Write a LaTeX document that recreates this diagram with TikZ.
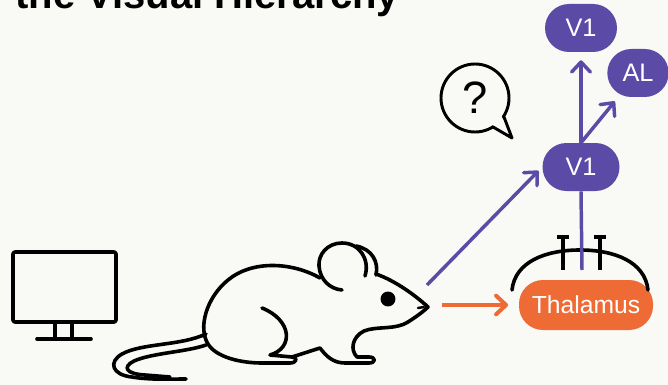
\documentclass[tikz,border=0pt]{standalone}
\usepackage{fontspec}
\setmainfont{Liberation Sans}
\usetikzlibrary{arrows.meta}
\definecolor{hierpurple}{RGB}{92,75,166}
\definecolor{hierorange}{RGB}{238,107,53}
\definecolor{paper}{RGB}{249,249,246}

\begin{document}
\begin{tikzpicture}[x=0.75pt,y=0.75pt,yscale=-1,xscale=1,
  outline/.style={line width=2.7pt,line cap=round,line join=round},
  pill/.style={rounded corners=18pt,text=white,inner sep=0pt},
  area/.style={pill,fill=hierpurple,minimum height=36pt,font=\fontsize{19}{22}\selectfont},
  feed/.style={line width=2.6pt,-{Straight Barb[length=7.5pt,width=14pt,round]}},
]
%set diagram size 668 x 385
\path[fill=paper] (0,0) rectangle (668,385);
\useasboundingbox (0,0) rectangle (668,385);

%Title (runs off the top)
\node[anchor=base west,inner sep=0pt,font=\bfseries\fontsize{30}{36}\selectfont] (title) at (15,9) {the Visual Hierarchy};

%Shape: Rectangle (monitor)
\draw[outline,rounded corners=1.5pt] (13,252) rectangle (116,322);
\draw[outline] (55,322) -- (55,338) (72,322) -- (72,338);
\draw[outline] (37,339) -- (91,339);

%Curve Lines: tail
\draw[outline] (206,334) .. controls (180,346) and (142,343) .. (122,354) .. controls (108,362) and (112,375) .. (132,377) .. controls (150,380) and (170,379) .. (186,379);
\draw[outline] (206,345) .. controls (186,352) and (152,353) .. (134,361) .. controls (122,367) and (126,374) .. (145,375) -- (170,377);
%Curve Lines: body, legs and head
\draw[outline] (320,278) .. controls (292,262) and (252,260) .. (228,280) .. controls (206,298) and (198,328) .. (208,344) .. controls (216,357) and (240,363) .. (262,363) -- (290,363) .. controls (297,363) and (298,357) .. (292,357) -- (320,348) .. controls (326,356) and (333,363) .. (345,363) -- (369,363) .. controls (376,363) and (376,357) .. (369,357) -- (357,357) .. controls (350,350) and (352,337) .. (364,331) .. controls (376,326) and (396,330) .. (408,322) .. controls (416,317) and (424,311) .. (428,307) .. controls (416,296) and (396,281) .. (376,274);
%Curve Lines: haunch
\draw[outline] (262,308) .. controls (292,320) and (294,348) .. (270,355) -- (292,357);
%Curve Lines: ear
\draw[outline] (365,276) .. controls (370,260) and (360,243) .. (342,243) .. controls (327,243) and (318,255) .. (319,266) .. controls (320,280) and (330,289) .. (342,290);
\draw[outline] (356,246) .. controls (372,249) and (379,262) .. (376,275);
%Shape: Circle (eye) and nostril
\fill (388,299) circle (5.6pt);
\draw[line width=1.8pt,line cap=round] (418,308) -- (424,307);

%Shape: Circle (speech bubble)
\node[circle,draw,line width=2.2pt,minimum size=51pt,inner sep=0pt,font=\fontsize{34}{40}\selectfont] (query) at (475,98) {?};
\fill[paper] (491,124) -- (512,138) -- (501,115) -- cycle;
\draw[line width=2.2pt,line join=round,line cap=round] (493,127) -- (512,138) -- (504,117);

%Areas
\node[pill,fill=hierorange,minimum width=100.5pt,minimum height=37.5pt,font=\fontsize{18.5}{22}\selectfont] (thal) at (586,305) {Thalamus};
\node[area,minimum width=57.75pt] (v1low) at (581,167) {V1};
\node[area,minimum width=54pt] (v1top) at (581,28) {V1};
\node[area,minimum width=46pt] (al) at (638,73) {AL};

%Curve Lines: cap over thalamus with two synapses
\draw[outline] (512,290) .. controls (515,262) and (545,250) .. (580,250) .. controls (615,250) and (645,262) .. (648,290);
\draw[outline,line cap=butt] (563,237) -- (563,270) (600,237) -- (600,270);
\draw[outline,line cap=butt] (557,237) -- (569,237) (594,237) -- (606,237);
\coordinate (synapse) at (582,270);
\draw[hierpurple,line width=2.6pt] (v1low.south) -- (synapse);

%Straight Lines: arrows
\coordinate (gaze) at (427,285);
\coordinate (snout) at (442,305);
\draw[feed,hierpurple,shorten >=4pt] (gaze) -- (v1low.west);
\draw[feed,hierorange,line width=3pt,shorten >=8pt] (snout) -- (thal.west);
\draw[feed,hierpurple,shorten >=6pt] (v1low.north) -- (v1top.south);
\draw[feed,hierpurple,shorten >=4pt] (v1low.north) -- (al);

\end{tikzpicture}
\end{document}
